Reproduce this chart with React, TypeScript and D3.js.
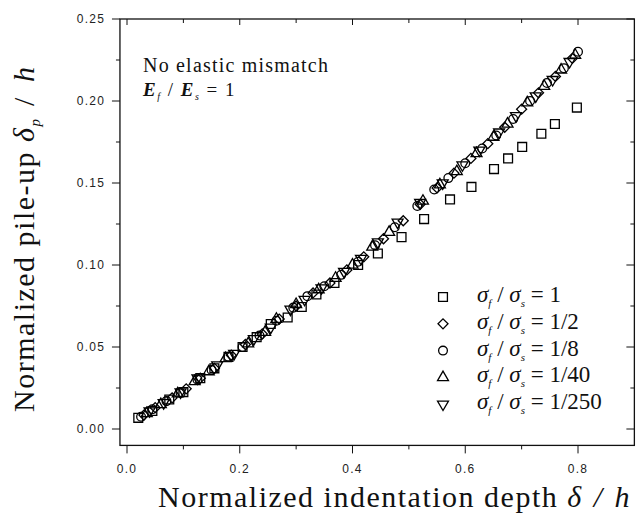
import React from "react";
import * as d3 from "d3";

// sigma_f / sigma_s = 1
const squares: [number, number][] = [
  [0.02, 0.0068], [0.045, 0.011], [0.075, 0.018], [0.1, 0.0225], [0.13, 0.031],
  [0.155, 0.037], [0.18, 0.044], [0.205, 0.05], [0.23, 0.056], [0.255, 0.064],
  [0.285, 0.068], [0.31, 0.0744], [0.336, 0.082], [0.368, 0.089], [0.41, 0.1],
  [0.445, 0.107], [0.487, 0.117], [0.527, 0.128], [0.573, 0.14], [0.611, 0.1476],
  [0.651, 0.1585], [0.676, 0.165], [0.701, 0.172], [0.735, 0.18], [0.759, 0.186],
  [0.798, 0.196],
];
// 1/2
const diamonds: [number, number][] = [
  [0.03, 0.0085], [0.05, 0.013], [0.08, 0.019], [0.105, 0.0245], [0.13, 0.031],
  [0.155, 0.037], [0.185, 0.045], [0.21, 0.0515], [0.24, 0.058], [0.27, 0.067],
  [0.3, 0.075], [0.33, 0.083], [0.36, 0.089], [0.39, 0.097], [0.42, 0.105],
  [0.455, 0.116], [0.49, 0.127], [0.52, 0.137], [0.55, 0.147], [0.58, 0.156],
  [0.61, 0.165], [0.64, 0.174], [0.67, 0.184], [0.7, 0.195], [0.73, 0.205],
  [0.76, 0.215], [0.79, 0.226],
];
// 1/8
const circles: [number, number][] = [
  [0.025, 0.0075], [0.045, 0.012], [0.07, 0.017], [0.095, 0.022], [0.125, 0.03],
  [0.15, 0.036], [0.18, 0.044], [0.205, 0.05], [0.235, 0.057], [0.265, 0.066],
  [0.295, 0.074], [0.32, 0.081], [0.35, 0.087], [0.38, 0.094], [0.41, 0.102],
  [0.44, 0.112], [0.475, 0.123], [0.515, 0.136], [0.545, 0.146], [0.57, 0.153],
  [0.6, 0.162], [0.63, 0.171], [0.655, 0.179], [0.685, 0.189], [0.715, 0.2],
  [0.745, 0.211], [0.775, 0.22], [0.8, 0.23],
];
// 1/40
const upTriangles: [number, number][] = [
  [0.035, 0.0095], [0.06, 0.015], [0.09, 0.0215], [0.12, 0.029], [0.145, 0.035],
  [0.175, 0.043], [0.215, 0.052], [0.245, 0.059], [0.265, 0.067], [0.3, 0.076],
  [0.34, 0.085], [0.37, 0.092], [0.4, 0.1], [0.435, 0.111], [0.465, 0.12],
  [0.525, 0.139], [0.555, 0.149], [0.585, 0.157], [0.62, 0.168], [0.65, 0.178],
  [0.675, 0.186], [0.71, 0.199], [0.74, 0.209], [0.77, 0.219], [0.795, 0.228],
];
// 1/250
const downTriangles: [number, number][] = [
  [0.04, 0.011], [0.065, 0.016], [0.095, 0.0225], [0.125, 0.031], [0.16, 0.039],
  [0.19, 0.046], [0.225, 0.055], [0.255, 0.062], [0.29, 0.073], [0.315, 0.079],
  [0.345, 0.086], [0.385, 0.096], [0.415, 0.104], [0.445, 0.114], [0.48, 0.126],
  [0.52, 0.138], [0.56, 0.15], [0.595, 0.161], [0.625, 0.17], [0.66, 0.181],
  [0.69, 0.191], [0.725, 0.203], [0.755, 0.213], [0.785, 0.224],
];

const legendRatios = ["1", "1/2", "1/8", "1/40", "1/250"];
const xTicks = [0, 0.2, 0.4, 0.6, 0.8];
const xMinor = [0.1, 0.3, 0.5, 0.7];
const yTicks = [0, 0.05, 0.1, 0.15, 0.2, 0.25];
const yMinor = [0.025, 0.075, 0.125, 0.175, 0.225];

const serif = "Liberation Serif, Times New Roman, serif";
const sans = "Liberation Sans, Arial, sans-serif";

const x = d3.scaleLinear().domain([0, 0.8]).range([127, 578]);
const y = d3.scaleLinear().domain([0, 0.25]).range([429, 19]);
const left = x(-0.0125);
const right = x(0.9);
const top = y(0.25);
const bottom = y(-0.01);

const sym = (type: d3.SymbolType, size: number) => d3.symbol().type(type).size(size)() || "";

const shapes = [
  { d: sym(d3.symbolSquare, 78), rot: 0, data: squares },
  { d: sym(d3.symbolSquare, 50), rot: 45, data: diamonds },
  { d: sym(d3.symbolCircle, 60), rot: 0, data: circles },
  { d: sym(d3.symbolTriangle, 52), rot: 0, data: upTriangles },
  { d: sym(d3.symbolTriangle, 52), rot: 180, data: downTriangles },
];

const Ratio = ({ v }: { v: string }) => (
  <>
    <tspan fontStyle="italic">σ</tspan>
    <tspan fontStyle="italic" fontSize="11" dy="5">f</tspan>
    <tspan dy="-5"> / </tspan>
    <tspan fontStyle="italic">σ</tspan>
    <tspan fontStyle="italic" fontSize="11" dy="5">s</tspan>
    <tspan dy="-5"> = {v}</tspan>
  </>
);

export default function App() {
  return (
    <svg width={643} height={519} style={{ position: "absolute", left: 0, top: 0, background: "#fff" }}>
      <rect x={0} y={0} width={643} height={519} fill="#fff" />
      {/* frame */}
      <rect x={left} y={top} width={right - left} height={bottom - top} fill="none" stroke="#111" strokeWidth={1.3} />

      {/* x ticks */}
      {xTicks.map((t) => (
        <g key={"xt" + t}>
          <line x1={x(t)} x2={x(t)} y1={bottom} y2={bottom + 8} stroke="#111" />
          <line x1={x(t)} x2={x(t)} y1={top} y2={top + 6} stroke="#111" />
          <text x={x(t)} y={473} textAnchor="middle" fontFamily={sans} fontSize={12} letterSpacing={1.2} fill="#222">
            {d3.format(".1f")(t)}
          </text>
        </g>
      ))}
      {xMinor.map((t) => (
        <g key={"xm" + t}>
          <line x1={x(t)} x2={x(t)} y1={bottom} y2={bottom + 4} stroke="#111" />
          <line x1={x(t)} x2={x(t)} y1={top} y2={top + 4} stroke="#111" />
        </g>
      ))}

      {/* y ticks */}
      {yTicks.map((t) => (
        <g key={"yt" + t}>
          <line x1={left - 8} x2={left} y1={y(t)} y2={y(t)} stroke="#111" />
          <line x1={right - 8} x2={right} y1={y(t)} y2={y(t)} stroke="#111" />
          <text x={105} y={y(t) + 4} textAnchor="end" fontFamily={sans} fontSize={12} letterSpacing={1.2} fill="#222">
            {d3.format(".2f")(t)}
          </text>
        </g>
      ))}
      {yMinor.map((t) => (
        <g key={"ym" + t}>
          <line x1={left - 4} x2={left} y1={y(t)} y2={y(t)} stroke="#111" />
          <line x1={right - 4} x2={right} y1={y(t)} y2={y(t)} stroke="#111" />
        </g>
      ))}

      {/* data */}
      {shapes.map((s, i) =>
        s.data.map((p, j) => (
          <path
            key={i + "-" + j}
            d={s.d}
            transform={`translate(${x(p[0])},${y(p[1])}) rotate(${s.rot})`}
            fill="none"
            stroke="#000"
            strokeWidth={1.3}
          />
        ))
      )}

      {/* annotation */}
      <text x={143} y={72} fontFamily={serif} fontSize={20} letterSpacing={1.2} fill="#111">No elastic mismatch</text>
      <text x={143} y={96} fontFamily={serif} fontSize={19} letterSpacing={1.5} fill="#111">
        <tspan fontStyle="italic" fontWeight="bold">E</tspan>
        <tspan fontStyle="italic" fontSize="10" dy="4">f</tspan>
        <tspan dy="-4">{" / "}</tspan>
        <tspan fontStyle="italic" fontWeight="bold">E</tspan>
        <tspan fontStyle="italic" fontSize="10" dy="4">s</tspan>
        <tspan dy="-4">{" = 1"}</tspan>
      </text>

      {/* legend */}
      {legendRatios.map((r, i) => {
        const ly = 302 + i * 26.8;
        return (
          <g key={"lg" + r}>
            <path
              d={shapes[i].d}
              transform={`translate(443,${ly - 5}) rotate(${shapes[i].rot})`}
              fill="none"
              stroke="#000"
              strokeWidth={1.3}
            />
            <text x={477} y={ly} fontFamily={serif} fontSize={23} fill="#111">
              <Ratio v={r} />
            </text>
          </g>
        );
      })}

      {/* axis titles */}
      <text x={158} y={507} fontFamily={serif} fontSize={30} letterSpacing={1.5} fill="#111">
        Normalized indentation depth{"  "}
        <tspan fontStyle="italic" letterSpacing={2.5}>δ / h</tspan>
      </text>
      <text transform="translate(34,412) rotate(-90)" fontFamily={serif} fontSize={30} letterSpacing={1.5} fill="#111">
        Normalized pile-up{"  "}
        <tspan fontStyle="italic">δ</tspan>
        <tspan fontStyle="italic" fontSize="15" dy="6">p</tspan>
        <tspan dy="-6" letterSpacing={4}> / </tspan>
        <tspan fontStyle="italic">h</tspan>
      </text>
    </svg>
  );
}
